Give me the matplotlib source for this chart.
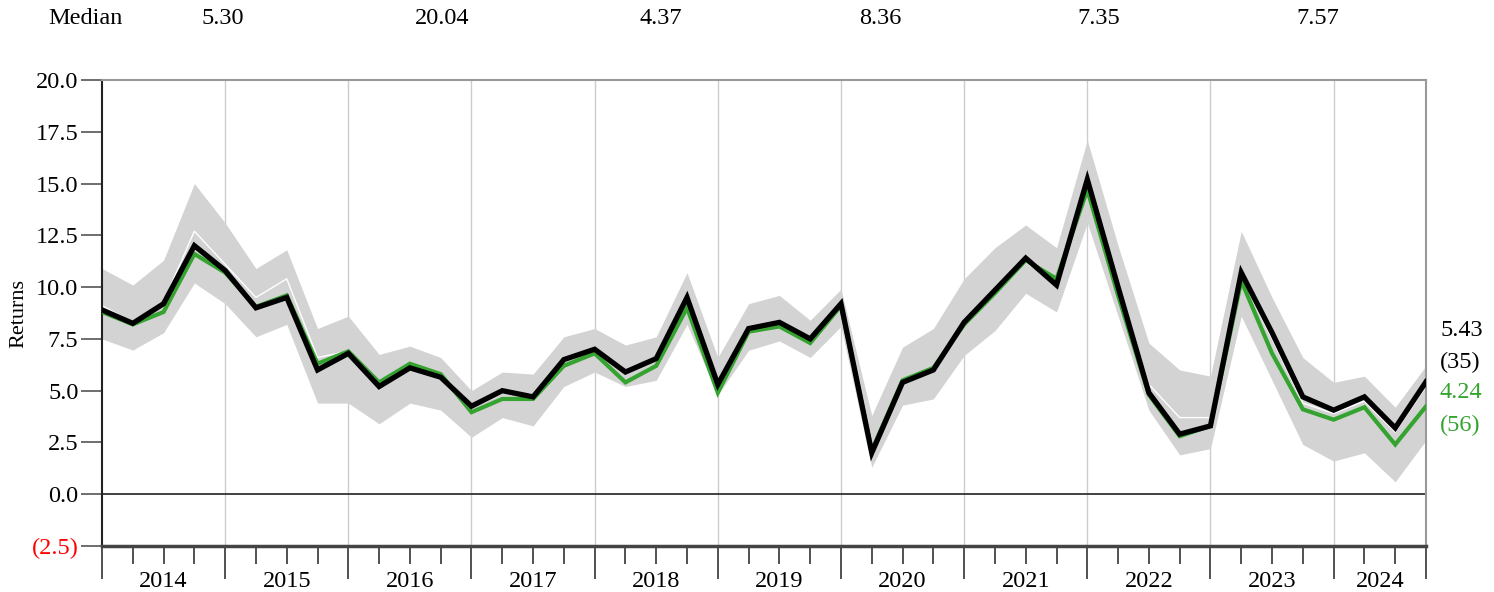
import numpy as np
import matplotlib
matplotlib.use("Agg")
import matplotlib.pyplot as plt
from matplotlib.ticker import FixedLocator, FuncFormatter

plt.rcParams['font.family'] = ['Liberation Serif', 'DejaVu Serif']

years = [2014, 2015, 2016, 2017, 2018, 2019, 2020, 2021, 2022, 2023, 2024]
n_q = 44   # 2014 Q1 .. 2024 Q4

fund = [8.9, 8.25, 9.2, 12.0, 10.8, 9.0, 9.5, 6.0, 6.8, 5.2,
        6.1, 5.65, 4.25, 5.0, 4.7, 6.5, 7.0, 5.9, 6.55, 9.5,
        5.3, 8.0, 8.3, 7.5, 9.2, 2.0, 5.4, 6.0, 8.3, 9.85,
        11.4, 10.1, 15.2, 10.0, 4.9, 2.9, 3.3, 10.7, 7.8, 4.7,
        4.06, 4.7, 3.2, 5.43]
bench = [8.8, 8.2, 8.8, 11.6, 10.7, 9.05, 9.6, 6.3, 6.9, 5.4,
         6.3, 5.8, 3.96, 4.6, 4.6, 6.2, 6.8, 5.4, 6.2, 9.0,
         4.9, 7.85, 8.1, 7.3, 9.1, 2.1, 5.5, 6.1, 8.2, 9.7,
         11.3, 10.4, 14.7, 9.6, 4.8, 2.8, 3.3, 10.3, 6.8, 4.1,
         3.6, 4.2, 2.4, 4.24]
peer_hi = [10.9, 10.1, 11.3, 15.0, 13.1, 10.9, 11.8, 8.0, 8.6, 6.75,
           7.15, 6.6, 5.0, 5.9, 5.8, 7.6, 8.0, 7.2, 7.6, 10.7,
           6.6, 9.2, 9.6, 8.4, 9.9, 3.8, 7.1, 8.0, 10.4, 11.9,
           13.0, 11.9, 17.1, 12.0, 7.3, 6.0, 5.7, 12.7, 9.5, 6.6,
           5.4, 5.7, 4.2, 6.2]
peer_lo = [7.5, 6.96, 7.8, 10.2, 9.2, 7.6, 8.2, 4.4, 4.4, 3.4,
           4.4, 4.06, 2.75, 3.7, 3.3, 5.2, 5.9, 5.2, 5.5, 8.2,
           4.8, 6.95, 7.4, 6.6, 8.1, 1.3, 4.3, 4.6, 6.7, 7.9,
           9.7, 8.8, 13.1, 8.6, 4.06, 1.9, 2.2, 8.6, 5.5, 2.4,
           1.6, 2.0, 0.6, 2.6]
peer_med = [9.1, 8.3, 9.3, 12.7, 11.1, 9.5, 10.4, 6.6, 6.9, 5.3,
            6.2, 5.7, 4.3, 5.0, 4.8, 6.5, 7.0, 5.9, 6.6, 9.4,
            5.3, 8.1, 8.4, 7.5, 9.2, 2.1, 5.5, 5.9, 8.2, 9.6,
            11.2, 10.2, 15.0, 10.0, 5.3, 3.7, 3.7, 10.5, 7.5, 4.4,
            3.9, 4.5, 3.0, 5.2]

medians = ["5.30", "20.04", "4.37", "8.36", "7.35", "7.57"]
fund_last, fund_rank = "5.43", "(35)"
bench_last, bench_rank = "4.24", "(56)"

GREEN = '#35a32f'
FS = 17.5
x = np.arange(n_q)

fig = plt.figure(figsize=(14.94, 5.92), dpi=100)
ax = fig.add_axes([102/1494, 1-546/592, (1426-102)/1494, (546-80)/592])

# year gridlines
for b in range(4, n_q, 4):
    ax.axvline(b, color='#cccccc', lw=1, zorder=0)

ax.fill_between(x, peer_lo, peer_hi, color='#d3d3d3', lw=0, zorder=1)
ax.plot(x, peer_med, color='white', lw=1, zorder=2)
ax.plot(x, bench, color=GREEN, lw=3, zorder=3, solid_joinstyle='miter')
ax.plot(x, fund, color='black', lw=3.8, zorder=4, solid_joinstyle='miter')
ax.axhline(0, color='#333333', lw=1.3, zorder=2)

ax.set_xlim(0, n_q - 1)
ax.set_ylim(-2.5, 20)

# y axis
ax.set_yticks(np.arange(-2.5, 20.01, 2.5))
ax.yaxis.set_major_formatter(FuncFormatter(
    lambda v, p: f"({abs(v):.1f})" if v < 0 else f"{v:.1f}"))
ax.tick_params(axis='y', direction='out', length=15, width=1.2, color='#555555',
               labelsize=FS, pad=2)
for lab in ax.get_yticklabels():
    if lab.get_text().startswith('('):
        lab.set_color('red')
ax.set_ylabel("Returns", fontsize=16, labelpad=2)

# x axis: long ticks at year boundaries, short ones at quarters
major = list(range(0, n_q, 4)) + [n_q - 1]
ax.xaxis.set_major_locator(FixedLocator(major))
ax.xaxis.set_minor_locator(FixedLocator([q for q in range(n_q) if q not in major]))
ax.tick_params(axis='x', which='major', direction='out', length=24, width=1.1,
               color='#222222', labelbottom=False)
ax.tick_params(axis='x', which='minor', direction='out', length=13, width=1.1,
               color='#222222')
for i, yr in enumerate(years):
    start = 4 * i
    end = min(start + 4, n_q - 1)
    ax.text((start + end) / 2, -0.077, str(yr), transform=ax.get_xaxis_transform(),
            ha='center', va='center', fontsize=FS)

for side in ['top', 'right']:
    ax.spines[side].set_color('#999999')
    ax.spines[side].set_linewidth(1.5)
ax.spines['left'].set_color('#222222')
ax.spines['left'].set_linewidth(1.5)
ax.spines['bottom'].set_color('#444444')
ax.spines['bottom'].set_linewidth(2.5)

# median row on top
fig.text(48/1494, 1-18/592, "Median", ha='left', va='center', fontsize=FS)
for k, m in enumerate(medians):
    fig.text((223 + 219*k)/1494, 1-18/592, m, ha='center', va='center', fontsize=FS)

# end labels
for yy, txt, col in [(330, fund_last, 'black'), (362, fund_rank, 'black'),
                     (393, bench_last, GREEN), (425, bench_rank, GREEN)]:
    fig.text(1440/1494, 1-yy/592, txt, ha='left', va='center', fontsize=FS, color=col)

fig.savefig("out.png", dpi=100)
